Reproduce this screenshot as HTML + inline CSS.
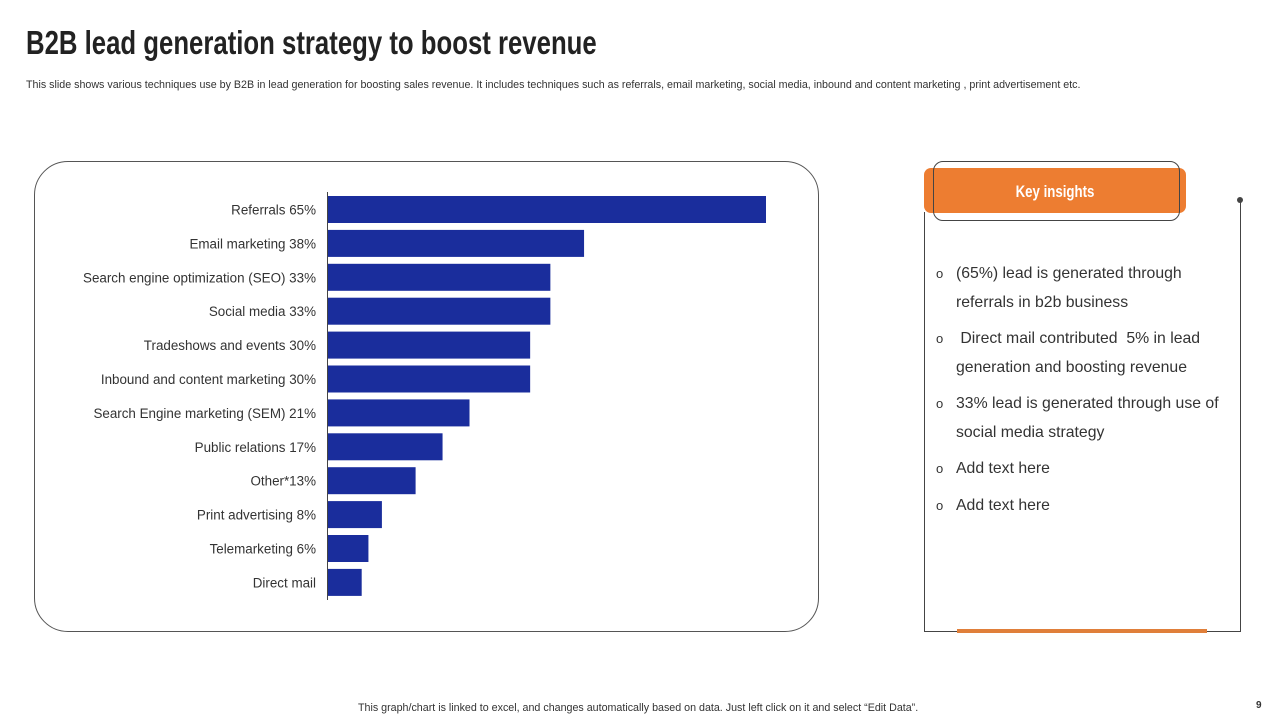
<!DOCTYPE html>
<html><head><meta charset="utf-8"><style>
body{margin:0;width:1280px;height:720px;background:#fff;position:relative;overflow:hidden;font-family:"Liberation Sans",sans-serif;}
.abs{position:absolute}
</style></head><body>
<div class="abs" style="left:26px;top:24px;font-family:'Liberation Sans Narrow','Liberation Sans',sans-serif;font-weight:bold;font-size:33px;color:#222;transform:scaleX(0.78);transform-origin:left;white-space:nowrap">B2B lead generation strategy to boost revenue</div>
<div class="abs" style="left:26px;top:79px;font-size:10.7px;color:#333;white-space:nowrap">This slide shows various techniques use by B2B in lead generation for boosting sales revenue. It includes techniques such as referrals, email marketing, social media, inbound and content marketing , print advertisement etc.</div>
<div class="abs" style="left:34px;top:161px;width:783px;height:469px;border:1px solid #555;border-radius:34px"></div>
<svg class="abs" style="left:0;top:0" width="1280" height="720" id="chart"></svg>

<div class="abs" style="left:924px;top:168px;width:262px;height:45px;background:#ed7d31;border-radius:7px;"></div>
<div class="abs" style="left:924px;top:168px;width:262px;height:45px;color:#fff;font-weight:bold;font-size:17px;line-height:48px;text-align:center;transform:scaleX(0.78)">Key insights</div>
<div class="abs" style="left:933px;top:161px;width:245px;height:58px;border:1px solid #444;border-radius:10px"></div>
<div class="abs" style="left:924px;top:212px;width:1px;height:419px;background:#444"></div>
<div class="abs" style="left:924px;top:631px;width:317px;height:1px;background:#444"></div>
<div class="abs" style="left:1240px;top:200px;width:1px;height:432px;background:#444"></div>
<div class="abs" style="left:1237px;top:197px;width:6px;height:6px;border-radius:50%;background:#444"></div>
<div class="abs" style="left:957px;top:629px;width:250px;height:4px;background:#e07f3a"></div>

<div class="abs" style="left:936px;top:260px;width:300px;font-size:15.8px;color:#333;line-height:28.5px">
<div style="position:relative;padding-left:20px;margin-bottom:8px"><span style="position:absolute;left:0;font-size:13px">o</span>(65%) lead is generated through referrals in b2b business</div>
<div style="position:relative;padding-left:20px;margin-bottom:8px"><span style="position:absolute;left:0;font-size:13px">o</span>&nbsp;Direct mail contributed&nbsp; 5% in lead generation and boosting revenue</div>
<div style="position:relative;padding-left:20px;margin-bottom:8px"><span style="position:absolute;left:0;font-size:13px">o</span>33% lead is generated through use of social media strategy</div>
<div style="position:relative;padding-left:20px;margin-bottom:8px"><span style="position:absolute;left:0;font-size:13px">o</span>Add text here</div>
<div style="position:relative;padding-left:20px"><span style="position:absolute;left:0;font-size:13px">o</span>Add text here</div>
</div>

<div class="abs" style="left:358px;top:702px;font-size:10.7px;color:#333;white-space:nowrap">This graph/chart is linked to excel, and changes automatically based on data. Just left click on it and select “Edit Data”.</div>
<div class="abs" style="left:1256px;top:700px;font-size:10px;color:#333;font-weight:bold">9</div>

<script>
const categories=["Referrals 65%","Email marketing 38%","Search engine optimization (SEO) 33%","Social media 33%","Tradeshows and events 30%","Inbound and content marketing 30%","Search Engine marketing (SEM) 21%","Public relations 17%","Other*13%","Print advertising 8%","Telemarketing 6%","Direct mail"];
const values=[65,38,33,33,30,30,21,17,13,8,6,5];
const svg=document.getElementById('chart');
const NS='http://www.w3.org/2000/svg';
const x0=328, pxPer=438/65, yTop=196, pitch=33.9, bh=27;
const xs=v=>x0+v*pxPer;
const ys=i=>yTop+i*pitch;
categories.forEach((c,i)=>{
  const r=document.createElementNS(NS,'rect');
  r.setAttribute('x',x0);r.setAttribute('y',ys(i));
  r.setAttribute('width',xs(values[i])-x0);r.setAttribute('height',bh);
  r.setAttribute('fill','#1a2d9c');
  
  
  svg.appendChild(r);
  const t=document.createElementNS(NS,'text');
  t.setAttribute('x',316);t.setAttribute('y',ys(i)+bh/2+5);
  t.setAttribute('text-anchor','end');t.setAttribute('font-size','13.4');
  t.setAttribute('fill','#333');t.setAttribute('font-family','Liberation Sans, sans-serif');
  t.textContent=c;
  
  
  svg.appendChild(t);
});
const ax=document.createElementNS(NS,'line');
ax.setAttribute('x1',327.5);ax.setAttribute('x2',327.5);ax.setAttribute('y1',192);ax.setAttribute('y2',600);
ax.setAttribute('stroke','#444');ax.setAttribute('stroke-width','1');


svg.appendChild(ax);
</script>
</body></html>
